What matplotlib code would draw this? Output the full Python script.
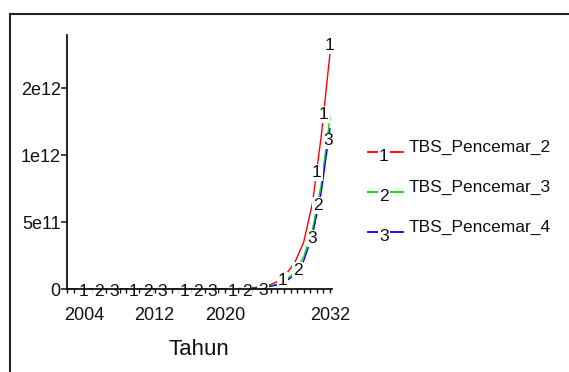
import numpy as np
import matplotlib
matplotlib.use("Agg")
import matplotlib.pyplot as plt
from matplotlib.lines import Line2D
from matplotlib.ticker import FixedLocator

plt.rcParams['font.family'] = ['Liberation Sans', 'DejaVu Sans']

W, H = 569, 372

years = list(range(2002, 2033))

tbs_2 = [3.4e4, 6.0e4, 1.1e5, 2.0e5, 3.5e5, 6.4e5, 1.1e6, 2.1e6, 3.7e6, 6.7e6,
         1.2e7, 2.2e7, 3.9e7, 7.0e7, 1.3e8, 2.3e8, 4.1e8, 7.4e8, 1.3e9, 2.4e9,
         4.4e9, 8.0e9, 1.5e10, 2.8e10, 5.5e10, 1.1e11, 2.0e11, 3.5e11, 6.4e11,
         1.14e12, 1.76e12]
tbs_3 = [1.4e4, 2.6e4, 4.8e4, 8.8e4, 1.6e5, 3.0e5, 5.4e5, 1.0e6, 1.8e6, 3.3e6,
         6.0e6, 1.1e7, 2.1e7, 3.8e7, 7.0e7, 1.3e8, 2.4e8, 4.4e8, 8.0e8, 1.5e9,
         2.7e9, 5.0e9, 1.0e10, 1.9e10, 3.6e10, 7.0e10, 1.25e11, 2.4e11, 4.4e11,
         7.8e11, 1.28e12]
tbs_4 = [1.2e4, 2.3e4, 4.2e4, 7.6e4, 1.4e5, 2.6e5, 4.7e5, 8.6e5, 1.6e6, 2.9e6,
         5.3e6, 9.7e6, 1.8e7, 3.3e7, 6.0e7, 1.1e8, 2.1e8, 3.8e8, 7.0e8, 1.3e9,
         2.4e9, 4.5e9, 9.0e9, 1.7e10, 3.2e10, 6.0e10, 1.05e11, 2.1e11, 4.0e11,
         7.2e11, 1.2e12]

names = ['TBS_Pencemar_2', 'TBS_Pencemar_3', 'TBS_Pencemar_4']
colors = ['#ff0000', '#00e000', '#0000ff']
markers = ['1', '2', '3']
# years where the little series numbers sit on each curve
label_years = [
    [2003.9, 2009.6, 2015.4, 2020.9, 2026.6, 2030.5, 2031.3, 2032.0],
    [2005.66, 2011.2, 2016.95, 2022.5, 2028.3, 2030.6],
    [2007.35, 2012.9, 2018.6, 2024.35, 2030.0, 2031.85],
]
# extra lift (points) for labels that sit above the end of a curve
label_lift = [
    [0, 0, 0, 0, 0, 0, 0, 8],
    [0, 0, 0, 0, 0, 0],
    [0, 0, 0, 0, 0, 0],
]

yticks = [0, 5e11, 1e12, 1.5e12]
ytick_labels = ['0', '5e11', '1e12', '2e12']
xticks = [2004, 2012, 2020, 2032]


def fpos(x, y):
    return x / W, 1 - y / H


fig = plt.figure(figsize=(W / 100, H / 100), dpi=100)
ax = fig.add_axes([67 / W, 83 / H, 264.7 / W, 254 / H])

series = [tbs_2, tbs_3, tbs_4]
for vals, col, mk, lys, lifts in zip(series, colors, markers, label_years, label_lift):
    ax.plot(years, vals, color=col, lw=1.0, zorder=2)
    for ly, lift in zip(lys, lifts):
        ax.annotate(mk, (ly, np.interp(ly, years, vals)), xytext=(0, -2 + lift),
                    textcoords='offset points', ha='center', va='center',
                    fontsize=12.5, color='#111111', zorder=2.2,
                    bbox=dict(boxstyle='square,pad=0.05', fc='white', ec='none'))

ax.set_xlim(2002, 2032.2)
ax.set_ylim(0, 1.9e12)
for s in ['top', 'right']:
    ax.spines[s].set_visible(False)
for s in ['left', 'bottom']:
    ax.spines[s].set_linewidth(1.3)
    ax.spines[s].set_color('#111111')

ax.set_yticks(yticks)
ax.set_yticklabels(ytick_labels)
ax.set_xticks(xticks)
ax.xaxis.set_minor_locator(FixedLocator(np.arange(2002, 2032.3, 0.75)))
ax.tick_params(axis='y', length=4, width=1.1, pad=0.5, labelsize=13, colors='#111111')
ax.tick_params(axis='x', which='major', length=3, width=1, pad=10, labelsize=13,
               colors='#111111')
ax.tick_params(axis='x', which='minor', length=3, width=1, colors='#111111')

ax.set_xlabel('Tahun', fontsize=16, color='#111111')
ax.xaxis.set_label_coords(0.5, -0.195)

# legend drawn by hand, Vensim style
for i, (nm, col, mk) in enumerate(zip(names, colors, markers)):
    yl = 151.7 + 40 * i
    x0, y0 = fpos(368, yl)
    x1, _ = fpos(403, yl)
    fig.add_artist(Line2D([x0, x1], [y0, y0], color=col, lw=1.3))
    tx, ty = fpos(384, yl + 5)
    fig.text(tx, ty, mk, ha='center', va='center', fontsize=12.5, color='#111111',
             bbox=dict(boxstyle='square,pad=0.05', fc='white', ec='none'))
    nx, ny = fpos(409, yl - 4)
    fig.text(nx, ny, nm, ha='left', va='center', fontsize=12.5, color='#111111')

# outer frame, only top and left edges are inside the picture
fx0, fy0 = fpos(10, 14)
fig.add_artist(Line2D([fx0, 1.0], [fy0, fy0], color='#222222', lw=1.5))
fig.add_artist(Line2D([fx0, fx0], [fy0, 0.0], color='#222222', lw=1.5))

fig.savefig('out.png', dpi=100)
